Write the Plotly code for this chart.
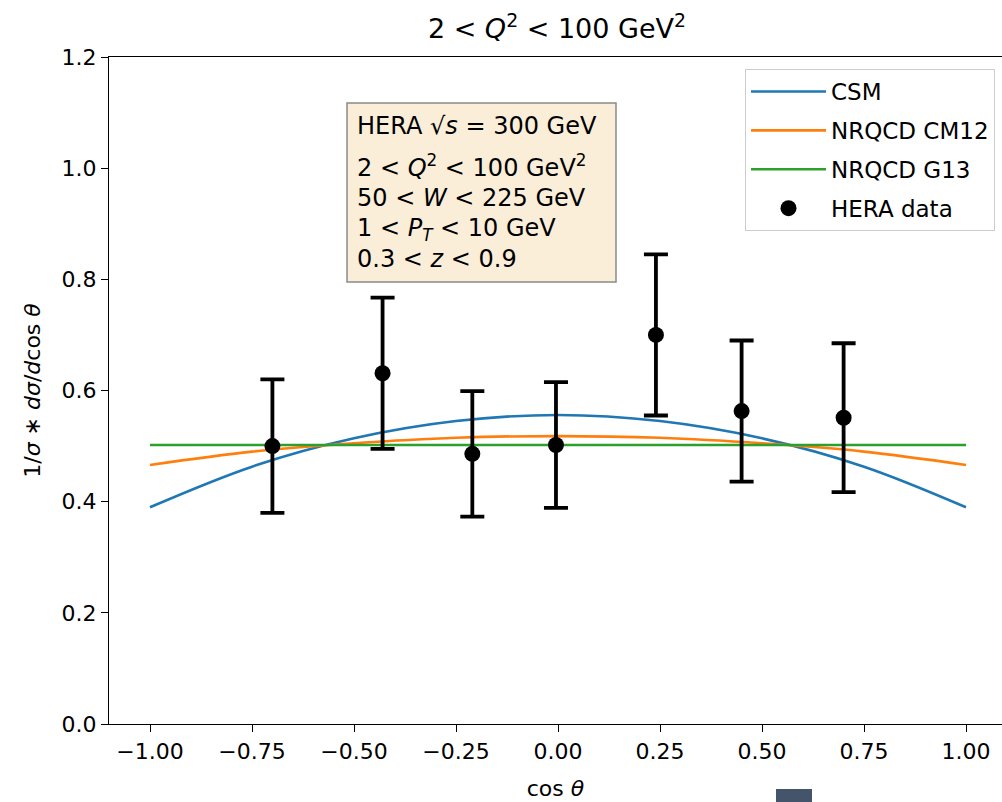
import plotly.graph_objects as go

# HERA measurement of the polar-angle distribution
data_cos = [-0.70, -0.43, -0.21, -0.005, 0.24, 0.45, 0.70]
data_val = [0.500, 0.631, 0.486, 0.502, 0.700, 0.563, 0.551]
data_err = [0.120, 0.136, 0.113, 0.113, 0.145, 0.127, 0.134]

# Model predictions sampled along cos(theta)
model_cos = [-1.0, -0.75, -0.5, -0.25, 0.0, 0.25, 0.5, 0.75, 1.0]
csm_val = [0.390, 0.463, 0.514, 0.545, 0.556, 0.545, 0.514, 0.463, 0.390]
cm12_val = [0.466, 0.490, 0.505, 0.515, 0.518, 0.515, 0.505, 0.490, 0.466]
g13_val = [0.502, 0.502, 0.502, 0.502, 0.502, 0.502, 0.502, 0.502, 0.502]

x_ticks = [-1.0, -0.75, -0.5, -0.25, 0.0, 0.25, 0.5, 0.75, 1.0]
y_ticks = [0.0, 0.2, 0.4, 0.6, 0.8, 1.0, 1.2]

# Kinematic cuts listed in the info box
info_lines = [
    "HERA √<i>s</i> = 300 GeV",
    "2 < <i>Q</i><sup>2</sup> < 100 GeV<sup>2</sup>",
    "50 < <i>W</i> < 225 GeV",
    "1 < <i>P<sub>T</sub></i> < 10 GeV",
    "0.3 < <i>z</i> < 0.9",
]

W, H = 1002, 802
ML, MR, MT, MB = 109, 0, 57, 78
PW, PH = W - ML - MR, H - MT - MB

FONT = "DejaVu Sans"


def px_x(p):
    return (p - ML) / PW


def px_y(p):
    return 1 - (p - MT) / PH


fig = go.Figure()
fig.add_trace(go.Scatter(x=model_cos, y=csm_val, mode="lines", name="CSM",
                         legendgroup="a",
                         line=dict(color="#1f77b4", width=2.6, shape="spline")))
fig.add_trace(go.Scatter(x=model_cos, y=cm12_val, mode="lines", name="NRQCD CM12",
                         legendgroup="b",
                         line=dict(color="#ff7f0e", width=2.6, shape="spline")))
fig.add_trace(go.Scatter(x=model_cos, y=g13_val, mode="lines", name="NRQCD G13",
                         legendgroup="c",
                         line=dict(color="#2ca02c", width=2.6)))
fig.add_trace(go.Scatter(x=data_cos, y=data_val, mode="markers", name="HERA data",
                         legendgroup="d",
                         marker=dict(color="black", size=16),
                         error_y=dict(type="data", array=data_err, visible=True,
                                      color="black", thickness=3.8, width=12)))

# info box background
fig.add_shape(type="rect", xref="paper", yref="paper",
              x0=px_x(347), x1=px_x(616), y0=px_y(282), y1=px_y(103),
              fillcolor="#faeed9", line=dict(color="#8a8a8a", width=1.5),
              layer="above")

line_centers = [126, 166, 198, 229, 259]
for txt, yc in zip(info_lines, line_centers):
    fig.add_annotation(x=px_x(355), y=px_y(yc), xref="paper", yref="paper",
                       xanchor="left", yanchor="middle", text=txt,
                       showarrow=False, align="left",
                       font=dict(family=FONT, size=24, color="black"))

fig.add_shape(type="rect", xref="paper", yref="paper",
              x0=px_x(776), x1=px_x(812), y0=px_y(802), y1=px_y(789),
              fillcolor="#44546a", line=dict(width=0), layer="above")

fig.update_layout(
    width=W, height=H,
    margin=dict(l=ML, r=MR, t=MT, b=MB),
    paper_bgcolor="white", plot_bgcolor="white",
    font=dict(family=FONT, size=22, color="black"),
    title=dict(text="2 < <i>Q</i><sup>2</sup> < 100 GeV<sup>2</sup>",
               x=557 / W, xanchor="center",
               y=1 - 29 / H, yanchor="middle",
               font=dict(family=FONT, size=27, color="black")),
    showlegend=True,
    legend=dict(x=px_x(995), y=px_y(69), xanchor="right", yanchor="top",
                bgcolor="white", bordercolor="#cccccc", borderwidth=1,
                font=dict(family=FONT, size=23, color="black"),
                tracegroupgap=6, itemwidth=75),
    xaxis=dict(range=[-1.1005, 1.0882], tickvals=x_ticks, tickformat=".2f",
               showgrid=False, zeroline=False, showline=True, linecolor="black",
               linewidth=1.3, mirror=True, ticks="outside", ticklen=7,
               tickwidth=1.3, tickcolor="black",
               tickfont=dict(family=FONT, size=22),
               title=dict(text="cos <i>θ</i>", standoff=18,
                          font=dict(family=FONT, size=22))),
    yaxis=dict(range=[0, 1.2], tickvals=y_ticks, tickformat=".1f",
               showgrid=False, zeroline=False, showline=True, linecolor="black",
               linewidth=1.3, mirror=False, ticks="outside", ticklen=7,
               tickwidth=1.3, tickcolor="black",
               tickfont=dict(family=FONT, size=22),
               title=dict(text="1/<i>σ</i> ∗ <i>dσ</i>/<i>d</i>cos <i>θ</i>",
                          standoff=14, font=dict(family=FONT, size=22))),
)

fig.write_html("out.html")
